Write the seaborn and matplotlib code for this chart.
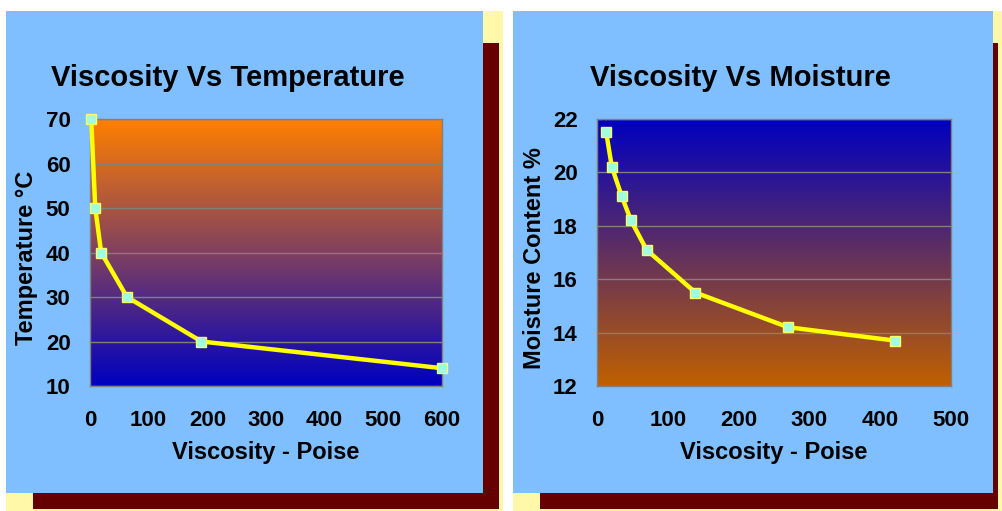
import matplotlib
matplotlib.use('Agg')
import matplotlib.pyplot as plt
from matplotlib.colors import LinearSegmentedColormap
from matplotlib.patches import Rectangle
from matplotlib.ticker import MultipleLocator
import numpy as np
import pandas as pd
import seaborn as sns

# Data
temp_viscosity = [2, 9, 19, 63, 190, 600]
temperature = [70, 50, 40, 30, 20, 14]

moist_viscosity = [13, 21, 35, 48, 70, 139, 270, 421]
moisture = [21.5, 20.2, 19.1, 18.2, 17.1, 15.5, 14.2, 13.7]

sns.set_style('white')
plt.rcParams['font.family'] = ['Liberation Sans', 'DejaVu Sans']
plt.rcParams['font.weight'] = 'bold'
plt.rcParams['text.color'] = 'black'
plt.rcParams['xtick.color'] = 'black'
plt.rcParams['ytick.color'] = 'black'
plt.rcParams['axes.labelcolor'] = 'black'

W, H = 1002, 511
fig = plt.figure(figsize=(W / 100, H / 100), dpi=100)
fig.patch.set_facecolor('white')

# Background frames, drawn in pixel coordinates
bg = fig.add_axes([0, 0, 1, 1])
bg.set_xlim(0, W)
bg.set_ylim(H, 0)
bg.axis('off')
pale = '#FFF8A8'
shadow = '#660000'
sky = '#80BFFF'
for x0, x1, bx1 in [(6, 503, 483), (513, 1002, 993)]:
    bg.add_patch(Rectangle((x0, 11), x1 - x0, H - 11, color=pale, lw=0))
    bg.add_patch(Rectangle((x0 + 27, 43), x1 - x0 - 27 - 4, 466, color=shadow, lw=0))
    bg.add_patch(Rectangle((x0, 11), bx1 - x0, 482, color=sky, lw=0))


def style_axes(ax, cmap, xmax, ymin, ymax, ymajor, xlabel, ylabel, title, title_x, ylab_x):
    grad = np.linspace(1, 0, 256).reshape(-1, 1)
    ax.imshow(grad, cmap=cmap, aspect='auto', extent=(0, xmax, ymin, ymax), zorder=0)
    ax.set_xlim(0, xmax)
    ax.set_ylim(ymin, ymax)
    ax.yaxis.set_major_locator(MultipleLocator(ymajor))
    ax.yaxis.set_minor_locator(MultipleLocator(ymajor / 2))
    ax.xaxis.set_major_locator(MultipleLocator(100))
    ax.grid(axis='y', color='#808080', lw=1.0, zorder=1)
    ax.set_axisbelow(False)
    for s in ax.spines.values():
        s.set_color('#808080')
        s.set_linewidth(1.0)
    ax.tick_params(axis='y', which='both', direction='out', length=6, width=1,
                   color='#808080', pad=8, labelsize=16)
    ax.tick_params(axis='y', which='minor', length=4)
    ax.tick_params(axis='x', length=0, pad=17, labelsize=16)
    for lab in ax.get_xticklabels() + ax.get_yticklabels():
        lab.set_fontweight('bold')
    ax.set_xlabel(xlabel, fontsize=17, fontweight='bold')
    ax.set_ylabel(ylabel, fontsize=17, fontweight='bold')
    ax.xaxis.set_label_coords(0.5, -0.205)
    ax.yaxis.set_label_coords(ylab_x, 0.48)
    ax.text(title_x, 1.153, title, transform=ax.transAxes, ha='center', va='center',
            fontsize=21, fontweight='bold')


# Left: viscosity vs temperature
ax1 = fig.add_axes([90 / W, (H - 386) / H, 352 / W, 267 / H])
cmap1 = LinearSegmentedColormap.from_list('orange_blue', ['#0000C0', '#FF8000'])
df1 = pd.DataFrame({'v': temp_viscosity, 't': temperature})
sns.lineplot(data=df1, x='v', y='t', sort=False, ax=ax1, color='#FFFF00', lw=3.2,
             marker='s', markersize=6.5, markerfacecolor='#A0FFE0', markeredgecolor='#FFFF60',
             markeredgewidth=1, zorder=5, clip_on=False)
style_axes(ax1, cmap1, 600, 10, 70, 10, 'Viscosity - Poise', 'Temperature \u00b0C',
           'Viscosity Vs Temperature', 0.392, -0.1475)

# Right: viscosity vs moisture
ax2 = fig.add_axes([597 / W, (H - 386) / H, 354 / W, 267 / H])
cmap2 = LinearSegmentedColormap.from_list('blue_orange', ['#C06000', '#0000C0'])
df2 = pd.DataFrame({'v': moist_viscosity, 'm': moisture})
sns.lineplot(data=df2, x='v', y='m', sort=False, ax=ax2, color='#FFFF00', lw=3.2,
             marker='s', markersize=6.5, markerfacecolor='#A0FFE0', markeredgecolor='#FFFF60',
             markeredgewidth=1, zorder=5, clip_on=False)
style_axes(ax2, cmap2, 500, 12, 22, 2, 'Viscosity - Poise', 'Moisture Content %',
           'Viscosity Vs Moisture', 0.404, -0.1445)

fig.savefig('out.png', dpi=100)
